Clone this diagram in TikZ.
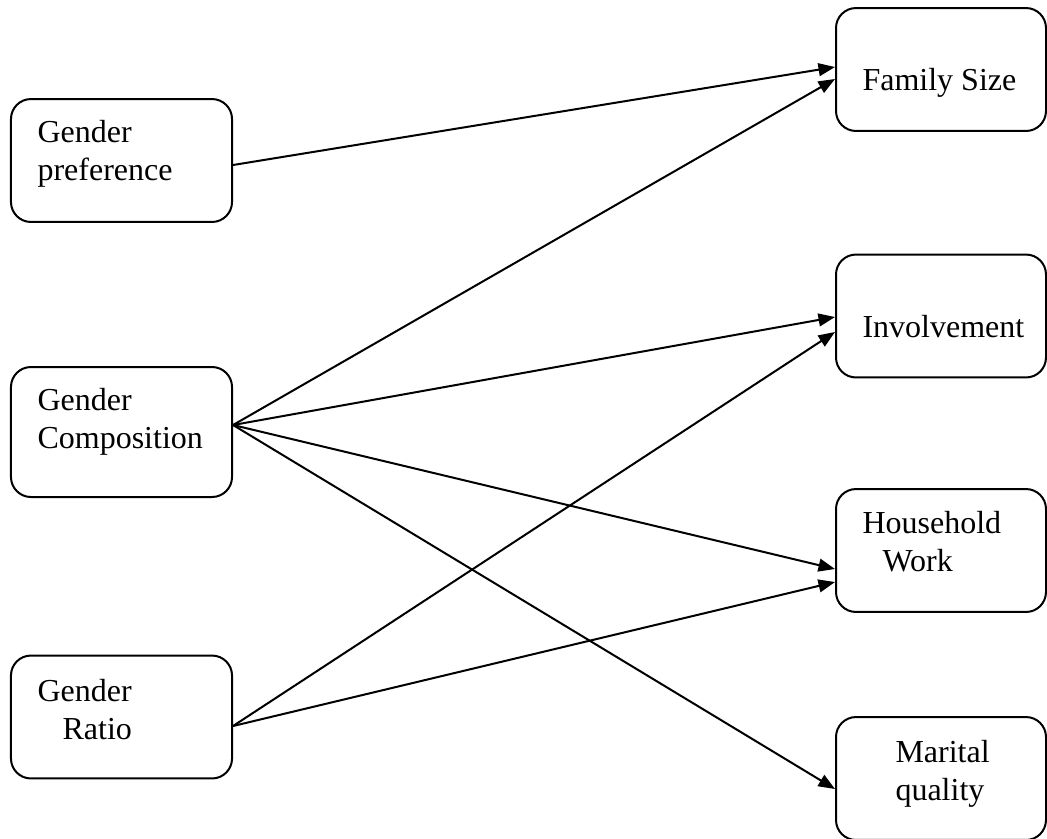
\documentclass[tikz,border=0pt]{standalone}
\usepackage{fontspec}
\setmainfont{Liberation Serif}
\usetikzlibrary{calc,arrows.meta}
\tikzset{>={Triangle[length=6.2pt,width=4.8pt]}}
\tikzset{
  lbox/.style={draw,line width=0.75pt,rounded corners=7.5pt,minimum width=82.9pt,minimum height=46.1pt,inner sep=0pt},
  rbox/.style={draw,line width=0.75pt,rounded corners=7.5pt,minimum width=78.75pt,minimum height=46.1pt,inner sep=0pt},
  txt/.style={anchor=base west,align=left,inner sep=0pt,font=\fontsize{12}{13.9}\selectfont},
  link/.style={->,line width=0.75pt}
}
\begin{document}
\begin{tikzpicture}[x=0.375pt,y=-0.375pt]
      \useasboundingbox (0,0) rectangle (1047,838);

      % left boxes
      \node[lbox] at (121.5,160.5) (gp) {};
      \node[lbox,minimum height=48.75pt] at (121.5,432) (gc) {};
      \node[lbox] at (121.5,717) (gr) {};
      % text sits on the baseline of its last line
      \node[txt] at (37,180) (gpt) {Gender\\preference};
      \node[txt] at (37,448) (gct) {Gender\\Composition};
      \node[txt] at (37,739) (grt) {Gender\\\hspace{9.4pt}Ratio};

      % right boxes
      \node[rbox] at (941,69.5) (fs) {};
      \node[rbox] at (941,316) (inv) {};
      \node[rbox] at (941,550.5) (hw) {};
      \node[rbox] at (941,778.5) (mq) {};
      \node[txt] at (862,90) (fst) {Family Size};
      \node[txt] at (862,337) (invt) {Involvement};
      \node[txt] at (862,571) (hwt) {Household\\\hspace{7.5pt}Work};
      \node[txt] at (895,800) (mqt) {Marital\\quality};

      % arrows
      \draw[link] ($(gp.east)+(0,4.5)$) -- ($(fs.west)+(0,-2.5)$);
      \draw[link] ($(gc.east)+(0,-7)$) -- ($(fs.west)+(0,9.5)$);
      \draw[link] ($(gc.east)+(0,-7)$) -- ($(inv.west)+(0,1)$);
      \draw[link] ($(gc.east)+(0,-7)$) -- ($(hw.west)+(0,18.5)$);
      \draw[link] ($(gc.east)+(0,-7)$) -- ($(mq.west)+(0,10.5)$);
      \draw[link] ($(gr.east)+(0,9)$) -- ($(inv.west)+(0,16)$);
      \draw[link] ($(gr.east)+(0,9)$) -- ($(hw.west)+(0,31.5)$);
\end{tikzpicture}
\end{document}
